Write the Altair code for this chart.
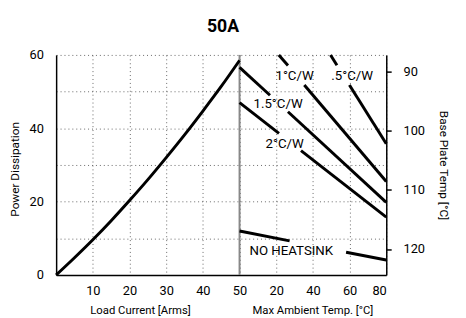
import altair as alt
import pandas as pd

FONT = "Roboto"

chart_title = "50A"

# Left panel: power dissipation [W] vs load current [Arms]
current = [0, 5, 10, 15, 20, 25, 30, 35, 40, 45, 50]
power = [0, 4.7, 9.6, 14.8, 20.3, 26.0, 32.0, 38.2, 44.7, 51.4, 58.5]

# Right panel: derating lines, ambient temp [°C] -> power [W]
# (each line split in two where its label sits)
seg_name = ["1°C/W", "1°C/W", ".5°C/W", ".5°C/W", "1.5°C/W", "1.5°C/W",
            "2°C/W", "2°C/W", "NO HEATSINK", "NO HEATSINK"]
seg_t_start = [21.4, 35.3, 49.6, 59.9, 0, 26.4, 0, 33.5, 0, 58.1]
seg_t_end = [26.4, 80, 53.1, 80, 16.6, 80, 21.5, 80, 27.3, 80]
seg_p_start = [60, 51.8, 60, 51.8, 56.6, 44.5, 47.0, 33.9, 12.0, 6.2]
seg_p_end = [57.1, 25.5, 57.2, 35.8, 49.0, 19.8, 38.6, 15.8, 9.3, 4.1]

label_text = ["1°C/W", ".5°C/W", "1.5°C/W", "2°C/W", "NO HEATSINK"]
label_t = [30.0, 61.4, 21.0, 24.6, 28.2]
label_p = [54.2, 54.2, 46.6, 35.8, 6.5]

current_ticks = [10, 20, 30, 40, 50]
temp_ticks = [20, 40, 60, 80]
power_ticks = [0, 10, 20, 30, 40, 50, 60]
baseplate_ticks = [90, 100, 110, 120]
baseplate_domain = [87.2, 124.4]

x_titles = ["Load Current  [Arms]", "Max Ambient Temp. [°C]"]


def t2x(t):
    # ambient temperature placed to the right of the 50 A divider
    return 50 + t / 2


df_curve = pd.DataFrame({"x": current, "p": power})
df_seg = pd.DataFrame({
    "name": seg_name,
    "x": [t2x(t) for t in seg_t_start],
    "x2": [t2x(t) for t in seg_t_end],
    "p": seg_p_start,
    "p2": seg_p_end,
})
df_lab = pd.DataFrame({"t": label_text, "x": [t2x(t) for t in label_t], "p": label_p})
df_div = pd.DataFrame({"x": [50], "p": [0], "p2": [60]})
df_bp = pd.DataFrame({"bp": baseplate_ticks})
df_xt = pd.DataFrame({"x": [23, 70], "t": x_titles})
df_title = pd.DataFrame({"x": [45.5], "t": [chart_title]})

x_values = current_ticks + [t2x(t) for t in temp_ticks]

xscale = alt.Scale(domain=[0, 90], nice=False, zero=False)
yscale = alt.Scale(domain=[0, 60], nice=False, zero=True)

x_axis = alt.Axis(
    values=x_values,
    labelExpr="datum.value <= 50 ? datum.label : format((datum.value - 50) * 2, 'd')",
    ticks=False, title=None, domainColor="black", domainWidth=1.5,
    grid=True, gridDash=[1, 3], gridColor="#666", gridWidth=1,
    labelFont=FONT, labelFontSize=13, labelPadding=10, labelColor="black",
)
y_axis = alt.Axis(
    values=power_ticks,
    labelExpr="datum.value % 20 == 0 ? datum.label : ''",
    ticks=False, title="Power Dissipation", titleFont=FONT, titleFontSize=12,
    titleFontWeight="normal", titleColor="black",
    titleX=-42, titleY=116, titleAngle=270, titleAlign="center", titleBaseline="middle",
    domainColor="black", domainWidth=1.5,
    grid=True, gridDash=[1, 3], gridColor="#666", gridWidth=1,
    labelFont=FONT, labelFontSize=13, labelPadding=13, labelColor="black",
)

X = alt.X("x:Q", scale=xscale, axis=x_axis)
Y = alt.Y("p:Q", scale=yscale, axis=y_axis)

curve = alt.Chart(df_curve).mark_line(color="black", strokeWidth=3, interpolate="monotone").encode(x=X, y=Y)

divider = alt.Chart(df_div).mark_rule(color="#888", strokeWidth=2).encode(
    x=X, y=Y, y2="p2:Q")

segs = alt.Chart(df_seg).mark_rule(color="black", strokeWidth=3, strokeCap="butt").encode(
    x=X, x2="x2:Q", y=Y, y2="p2:Q")

labels = alt.Chart(df_lab).mark_text(
    font=FONT, fontSize=13.5, color="black", align="center", baseline="middle"
).encode(x=X, y=Y, text="t:N")

xtitles = alt.Chart(df_xt).mark_text(
    font=FONT, fontSize=11.5, color="black", align="center", baseline="middle"
).encode(x=X, y=alt.value(261), text="t:N")

title_mark = alt.Chart(df_title).mark_text(
    font=FONT, fontSize=18, fontWeight="bold", color="black", align="center", baseline="middle"
).encode(x=X, y=alt.value(-28), text="t:N")

right = alt.Chart(df_bp).mark_point(opacity=0).encode(
    y=alt.Y("bp:Q",
            scale=alt.Scale(domain=baseplate_domain, reverse=True, nice=False, zero=False),
            axis=alt.Axis(orient="right", values=baseplate_ticks, title="Base Plate Temp [°C]",
                          grid=False, ticks=True, tickSize=5, tickColor="black", tickWidth=1.5,
                          domainColor="black", domainWidth=1.5,
                          labelFont=FONT, labelFontSize=13, labelPadding=12, labelColor="black",
                          titleFont=FONT, titleFontSize=12, titleFontWeight="normal",
                          titleColor="black", titlePadding=12))
)

left_layers = alt.layer(divider, curve, segs, labels, xtitles, title_mark)

chart = alt.layer(left_layers, right).resolve_scale(y="independent").properties(
    width=336, height=224,
    autosize=alt.AutoSizeParams(type="none"),
    padding={"left": 49, "top": 45, "right": 73, "bottom": 41},
).configure_view(stroke=None)

chart.save("out.html", embed_options={"renderer": "svg", "actions": False})
